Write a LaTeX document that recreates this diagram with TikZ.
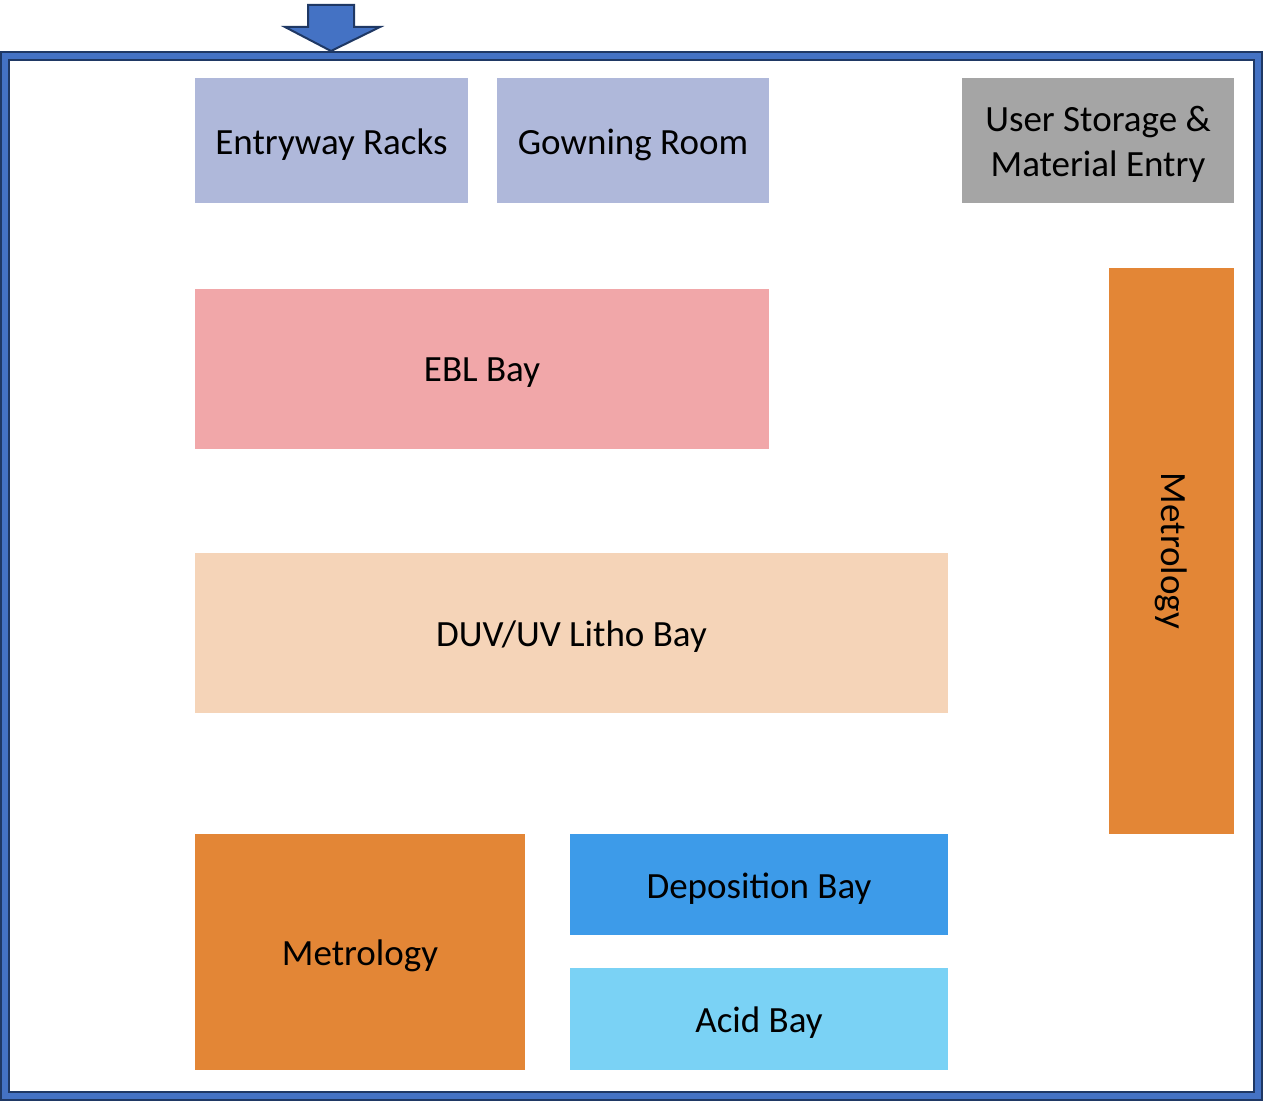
\documentclass[tikz,border=0pt]{standalone}
\usepackage{fontspec}
\setmainfont{Carlito}
\definecolor{frameblue}{HTML}{4472C4}
\definecolor{framedark}{HTML}{1F3864}
\definecolor{lav}{HTML}{AFB8DA}
\definecolor{greybox}{HTML}{A5A5A5}
\definecolor{ebl}{HTML}{F1A7A9}
\definecolor{litho}{HTML}{F5D4B8}
\definecolor{metro}{HTML}{E38636}
\definecolor{depo}{HTML}{3D9BE9}
\definecolor{acid}{HTML}{7AD2F5}
\tikzset{
  room/.style={draw=none, inner sep=0pt},
  roomtext/.style={inner sep=0pt, align=center, font=\fontsize{37}{45}\selectfont, text=black, yshift=-4pt},
}
\begin{document}
\begin{tikzpicture}[x=1pt,y=-1pt]
\useasboundingbox (0,0) rectangle (1264,1102);
\fill[white] (0,0) rectangle (1264,1102);
% frame
\path[fill=frameblue, draw=framedark, line width=2.5pt, even odd rule]
  (1,52) rectangle (1262,1100) (9,60) rectangle (1254,1092);
% entry arrow
\path[fill=frameblue, draw=framedark, line width=2pt, line join=miter]
  (308,5) -- (354,5) -- (354,27) -- (380,27) -- (331,51) -- (285,27) -- (308,27) -- cycle;
% rooms
\node[room, fill=lav, minimum width=273pt, minimum height=125pt] (entry) at (331.5,140.5) {};
\node[roomtext] (entryT) at (entry.center) {Entryway Racks};
\node[room, fill=lav, minimum width=272pt, minimum height=125pt] (gown) at (633,140.5) {};
\node[roomtext] (gownT) at (gown.center) {Gowning Room};
\node[room, fill=greybox, minimum width=272pt, minimum height=125pt] (store) at (1098,140.5) {};
\node[roomtext] (storeT) at (store.center) {User Storage \&\\Material Entry};
\node[room, fill=ebl, minimum width=574pt, minimum height=160pt] (ebl) at (482,369) {};
\node[roomtext] (eblT) at (ebl.center) {EBL Bay};
\node[room, fill=litho, minimum width=753pt, minimum height=160pt] (litho) at (571.5,633) {};
\node[roomtext] (lithoT) at (litho.center) {DUV/UV Litho Bay};
\node[room, fill=metro, minimum width=125pt, minimum height=566pt] (metroR) at (1171.5,551) {};
\node[inner sep=0pt, font=\fontsize{37}{45}\selectfont, rotate=-90] (metroRT) at (metroR.center) {Metrology};
\node[room, fill=metro, minimum width=330pt, minimum height=236pt] (metroL) at (360,952) {};
\node[roomtext] (metroLT) at (metroL.center) {Metrology};
\node[room, fill=depo, minimum width=378pt, minimum height=101pt] (depo) at (759,884.5) {};
\node[roomtext] (depoT) at (depo.center) {Deposition Bay};
\node[room, fill=acid, minimum width=378pt, minimum height=102pt] (acid) at (759,1019) {};
\node[roomtext] (acidT) at (acid.center) {Acid Bay};
\end{tikzpicture}
\end{document}
